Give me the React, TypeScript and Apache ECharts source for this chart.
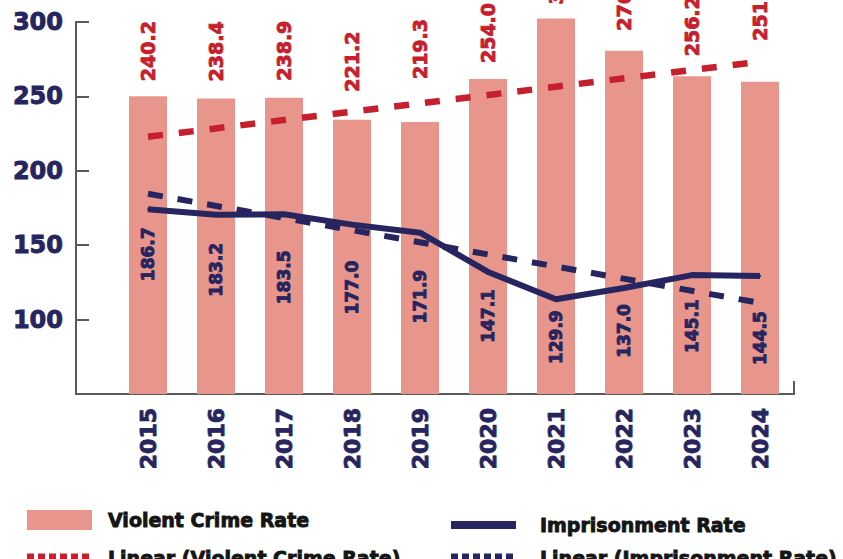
import React, { useEffect, useRef } from 'react';
import * as echarts from 'echarts';

const years = ['2015', '2016', '2017', '2018', '2019', '2020', '2021', '2022', '2023', '2024'];
const violentCrimeRate = [240.2, 238.4, 238.9, 221.2, 219.3, 254.0, 302.9, 276.9, 256.2, 251.9];
const imprisonmentRate = [186.7, 183.2, 183.5, 177.0, 171.9, 147.1, 129.9, 137.0, 145.1, 144.5];
// trend line end values (first and last year)
const violentTrend = [207.5, 268.0];
const imprisonmentTrend = [196.5, 127.5];
const yTickLabels = [100, 150, 200, 250, 300];

// label placement (layout, not data)
const violentLabelGap = [15, 17, 17, 28, 43, 16, 14, 20, 20, 41];
const imprisonLabelShift = [45, 55, 63, 63, 64, 44, 38, 43, 51, 62];

const NAVY = '#262560';
const RED = '#C61F2E';
const SALMON = '#E8968B';
const AXIS = '#5a5a5a';
const FONT = '"DejaVu Sans", "Liberation Sans", sans-serif';

const heavy = (color: string, size: number) => ({
  color,
  fontFamily: FONT,
  fontWeight: 'bold' as const,
  fontSize: size,
  textBorderColor: color,
  textBorderWidth: 0.9,
});

export default function App() {
  const ref = useRef<HTMLDivElement>(null);
  useEffect(() => {
    if (!ref.current) return;
    const chart = echarts.init(ref.current, null, { renderer: 'svg' });
    const dots = 'path://M0,0h7v9h-7z M11,0h7v9h-7z M22,0h7v9h-7z M33,0h7v9h-7z M44,0h7v9h-7z M55,0h7v9h-7z';
    const legendText = (pad: number) => ({
      ...heavy('#151515', 19),
      padding: [0, 0, 0, pad],
    });
    chart.setOption({
      animation: false,
      grid: { left: 114, right: 49, top: 22, bottom: 165, containLabel: false },
      xAxis: {
        type: 'category',
        data: years,
        axisLine: { show: true, lineStyle: { color: AXIS, width: 2 } },
        axisTick: { show: false },
        axisLabel: {
          rotate: 90,
          margin: 14,
          ...heavy(NAVY, 22),
        },
      },
      yAxis: [
        {
          type: 'value',
          min: 50,
          max: 300,
          interval: 50,
          offset: 38,
          splitLine: { show: false },
          axisLine: { show: true, lineStyle: { color: AXIS, width: 2 } },
          axisTick: { show: true, inside: true, length: 13, lineStyle: { color: AXIS, width: 2 } },
          axisLabel: {
            margin: 13,
            ...heavy(NAVY, 24),
            formatter: (v: number) => (yTickLabels.includes(v) ? String(v) : ''),
          },
        },
        { type: 'value', min: 0, max: 300, show: false, splitLine: { show: false } },
        { type: 'value', min: 70, max: 305, show: false, splitLine: { show: false } },
      ],
      legend: [
        {
          left: 27, top: 510, padding: 0, itemWidth: 65, itemHeight: 20,
          data: [{ name: 'Violent Crime Rate', icon: 'rect' }],
          textStyle: legendText(11),
        },
        {
          left: 451, top: 515, padding: 0, itemWidth: 65, itemHeight: 8,
          data: [{ name: 'Imprisonment Rate', icon: 'rect' }],
          textStyle: legendText(19),
        },
        {
          left: 27, top: 548, padding: 0, itemWidth: 62, itemHeight: 9,
          data: [{ name: 'Linear (Violent Crime Rate)', icon: dots }],
          textStyle: legendText(14),
        },
        {
          left: 451, top: 548, padding: 0, itemWidth: 62, itemHeight: 9,
          data: [{ name: 'Linear (Imprisonment Rate)', icon: dots }],
          textStyle: legendText(22),
        },
      ],
      series: [
        {
          name: 'Violent Crime Rate',
          type: 'bar',
          yAxisIndex: 1,
          barWidth: 38,
          clip: false,
          itemStyle: { color: SALMON },
          data: violentCrimeRate.map((v, i) => ({
            value: v,
            label: { distance: violentLabelGap[i] },
          })),
          label: {
            show: true,
            position: 'top',
            rotate: 90,
            align: 'left',
            verticalAlign: 'middle',
            ...heavy(RED, 19),
            formatter: (p: any) => Number(p.value).toFixed(1),
          },
          z: 1,
        },
        {
          name: 'Linear (Violent Crime Rate)',
          type: 'line',
          yAxisIndex: 1,
          symbol: 'none',
          clip: false,
          itemStyle: { color: RED },
          lineStyle: { color: RED, width: 6.5, type: [15, 16] },
          data: [
            [years[0], violentTrend[0]],
            [years[years.length - 1], violentTrend[1]],
          ],
          z: 3,
        },
        {
          name: 'Imprisonment Rate',
          type: 'line',
          yAxisIndex: 2,
          symbol: 'circle',
          symbolSize: 2,
          showSymbol: true,
          itemStyle: { color: NAVY },
          lineStyle: { color: NAVY, width: 6 },
          data: imprisonmentRate.map((v, i) => ({
            value: v,
            label: { position: [1, 1 + imprisonLabelShift[i]] },
          })),
          label: {
            show: true,
            rotate: 90,
            align: 'center',
            verticalAlign: 'middle',
            ...heavy(NAVY, 17),
            formatter: (p: any) => Number(p.value).toFixed(1),
          },
          z: 4,
        },
        {
          name: 'Linear (Imprisonment Rate)',
          type: 'line',
          yAxisIndex: 2,
          symbol: 'none',
          itemStyle: { color: NAVY },
          lineStyle: { color: NAVY, width: 6, type: [15, 15] },
          data: [
            [years[0], imprisonmentTrend[0]],
            [years[years.length - 1], imprisonmentTrend[1]],
          ],
          z: 3,
        },
      ],
      graphic: [
        { type: 'line', shape: { x1: 75, y1: 394, x2: 115, y2: 394 }, style: { stroke: AXIS, lineWidth: 2 }, z: 10 },
        { type: 'line', shape: { x1: 794, y1: 381, x2: 794, y2: 395 }, style: { stroke: AXIS, lineWidth: 2 }, z: 10 },
      ],
    });
    return () => chart.dispose();
  }, []);
  return (
    <div
      ref={ref}
      style={{ position: 'fixed', left: 0, top: 0, width: 843, height: 559, background: '#fff' }}
    />
  );
}
